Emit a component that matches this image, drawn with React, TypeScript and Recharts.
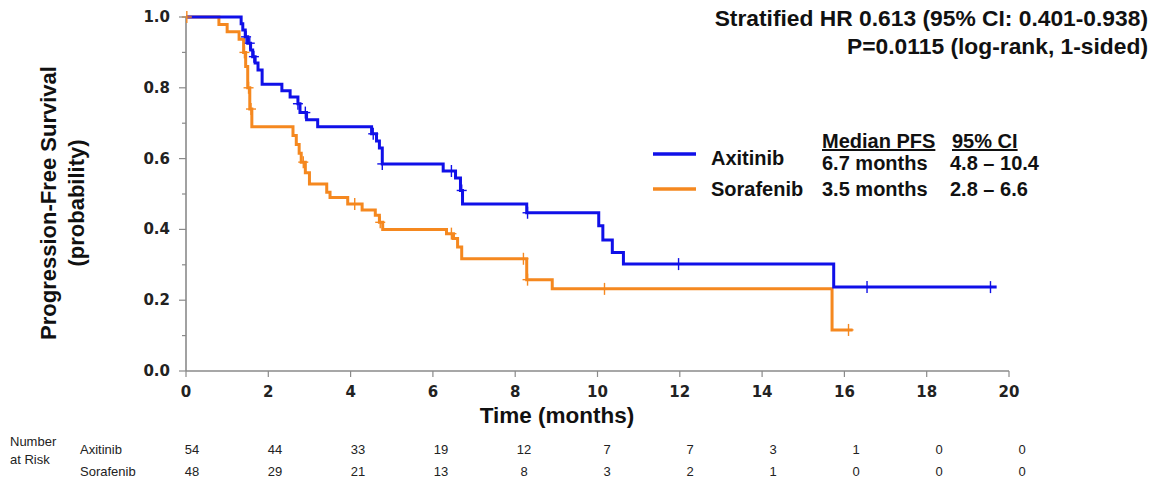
import { ComposedChart, Line, Scatter, XAxis, YAxis } from "recharts"

// Kaplan-Meier steps: time (months) where each step starts, and survival
const axitinibTime = [0, 1.34, 1.38, 1.44, 1.5, 1.57, 1.62, 1.68, 1.75, 1.85, 2.33, 2.53, 2.72, 2.77, 2.93, 3.2, 4.51, 4.63, 4.7, 4.77, 6.25, 6.55, 6.67, 6.72, 8.28, 10.03, 10.13, 10.36, 10.63, 15.74, 19.7]
const axitinibSurv = [1.0, 0.981, 0.963, 0.944, 0.926, 0.907, 0.888, 0.87, 0.85, 0.81, 0.792, 0.774, 0.755, 0.73, 0.71, 0.69, 0.67, 0.65, 0.63, 0.585, 0.565, 0.545, 0.51, 0.472, 0.447, 0.41, 0.37, 0.335, 0.302, 0.237, 0.237]
const axitinibCensor = [1.46, 1.55, 1.65, 2.72, 2.9, 4.55, 4.77, 6.45, 6.7, 8.3, 11.97, 16.55, 19.55]

const sorafenibTime = [0, 0.8, 1.0, 1.29, 1.4, 1.45, 1.5, 1.55, 1.6, 2.6, 2.68, 2.75, 2.8, 2.9, 3.0, 3.42, 3.5, 3.93, 4.28, 4.6, 4.7, 4.78, 6.33, 6.5, 6.6, 6.7, 8.28, 8.9, 15.7, 16.2]
const sorafenibSurv = [1.0, 0.979, 0.958, 0.937, 0.9, 0.86, 0.8, 0.74, 0.69, 0.665, 0.64, 0.615, 0.59, 0.56, 0.528, 0.505, 0.49, 0.472, 0.455, 0.44, 0.42, 0.4, 0.388, 0.374, 0.35, 0.317, 0.258, 0.232, 0.116, 0.116]
const sorafenibCensor = [0.02, 1.42, 1.52, 1.58, 2.85, 4.1, 4.72, 6.45, 8.2, 8.3, 10.17, 16.1]

const xTicks = [0, 2, 4, 6, 8, 10, 12, 14, 16, 18, 20]
const yTicks = [0, 0.1, 0.2, 0.3, 0.4, 0.5, 0.6, 0.7, 0.8, 0.9, 1.0]

const riskAxitinib = [54, 44, 33, 19, 12, 7, 7, 3, 1, 0, 0]
const riskSorafenib = [48, 29, 21, 13, 8, 3, 2, 1, 0, 0, 0]

const BLUE = "#1010e8"
const ORANGE = "#f5881f"
const AXIS = "#8a8a8a"
const BOLD = "'Liberation Sans', Arial, sans-serif"
const TICKFONT = "'DejaVu Sans', sans-serif"

const steps = (times: number[], surv: number[]) => times.map((t, i) => ({ t, s: surv[i] }))

const censors = (marks: number[], times: number[], surv: number[]) =>
  marks.map((c) => {
    let s = surv[0]
    times.forEach((t, i) => {
      if (t <= c) s = surv[i]
    })
    return { t: c, s }
  })

const plus = (color: string) => (props: any) => {
  const { cx, cy } = props
  return (
    <g stroke={color} strokeWidth={1.4}>
      <line x1={cx} x2={cx} y1={cy - 6} y2={cy + 6} />
      <line x1={cx - 5} x2={cx + 5} y1={cy} y2={cy} />
    </g>
  )
}

function YTick({ x, y, payload }: any) {
  const major = Math.round(payload.value * 10) % 2 === 0
  return (
    <g>
      <line x1={x - (major ? 7 : 4)} x2={x} y1={y} y2={y} stroke={AXIS} strokeWidth={1.2} />
      {major && (
        <text x={x - 16} y={y + 5} textAnchor="end" fontFamily={TICKFONT} fontWeight="bold" fontSize={15} fill="#222">
          {payload.value.toFixed(1)}
        </text>
      )}
    </g>
  )
}

function XTick({ x, y, payload }: any) {
  return (
    <g>
      <line x1={x} x2={x} y1={y} y2={y + 6} stroke={AXIS} strokeWidth={1.2} />
      <text x={x} y={y + 26} textAnchor="middle" fontFamily={TICKFONT} fontWeight="bold" fontSize={15} fill="#222">
        {payload.value}
      </text>
    </g>
  )
}

export default function App() {
  const axData = steps(axitinibTime, axitinibSurv)
  const soData = steps(sorafenibTime, sorafenibSurv)
  const axCens = censors(axitinibCensor, axitinibTime, axitinibSurv)
  const soCens = censors(sorafenibCensor, sorafenibTime, sorafenibSurv)

  return (
    <div style={{ position: "absolute", left: 0, top: 0, width: 1161, height: 483, background: "#fff" }}>
      <ComposedChart width={1161} height={401} margin={{ top: 17, right: 152, bottom: 0, left: 126 }}>
        <XAxis
          dataKey="t"
          type="number"
          domain={[0, 20]}
          ticks={xTicks}
          height={30}
          stroke={AXIS}
          strokeWidth={1.6}
          tickLine={false}
          tickSize={0}
          tickMargin={0}
          tick={<XTick />}
          interval={0}
        />
        <YAxis
          type="number"
          domain={[0, 1]}
          ticks={yTicks}
          width={60}
          stroke={AXIS}
          strokeWidth={1.6}
          tickLine={false}
          tickSize={0}
          tickMargin={0}
          tick={<YTick />}
          interval={0}
        />
        <Line data={soData} dataKey="s" type="stepAfter" stroke={ORANGE} strokeWidth={3} dot={false} isAnimationActive={false} />
        <Line data={axData} dataKey="s" type="stepAfter" stroke={BLUE} strokeWidth={3} dot={false} isAnimationActive={false} />
        <Scatter data={soCens} dataKey="s" shape={plus(ORANGE)} isAnimationActive={false} />
        <Scatter data={axCens} dataKey="s" shape={plus(BLUE)} isAnimationActive={false} />
      </ComposedChart>

      <svg width={1161} height={483} style={{ position: "absolute", left: 0, top: 0, pointerEvents: "none" }}>
        <g fontFamily={BOLD} fontWeight="bold" fill="#111">
          <text x={1148} y={26} textAnchor="end" fontSize={22.8}>Stratified HR 0.613 (95% CI: 0.401-0.938)</text>
          <text x={1148} y={54} textAnchor="end" fontSize={22.8}>P=0.0115 (log-rank, 1-sided)</text>

          <text transform="translate(56,203) rotate(-90)" textAnchor="middle" fontSize={22}>Progression-Free Survival</text>
          <text transform="translate(84,203) rotate(-90)" textAnchor="middle" fontSize={22}>(probability)</text>

          <text x={557} y={423} textAnchor="middle" fontSize={22.5}>Time (months)</text>

          <line x1={653} x2={696} y1={154} y2={154} stroke={BLUE} strokeWidth={3.5} />
          <line x1={653} x2={696} y1={189} y2={189} stroke={ORANGE} strokeWidth={3.5} />
          <text x={711} y={165} fontSize={20}>Axitinib</text>
          <text x={711} y={196} fontSize={20}>Sorafenib</text>
          <text x={822} y={148} fontSize={20} style={{ textDecoration: "underline" }}>Median PFS</text>
          <text x={952} y={148} fontSize={20} style={{ textDecoration: "underline" }}>95% CI</text>
          <text x={822} y={170} fontSize={20}>6.7 months</text>
          <text x={950} y={170} fontSize={20}>4.8 – 10.4</text>
          <text x={822} y={196} fontSize={20}>3.5 months</text>
          <text x={950} y={196} fontSize={20}>2.8 – 6.6</text>
        </g>

        <g fontFamily="'Liberation Sans Narrow', 'Liberation Sans', Arial, sans-serif" fontSize={13} fill="#222">
          <text x={10} y={446}>Number</text>
          <text x={10} y={464}>at Risk</text>
          <text x={80} y={454}>Axitinib</text>
          <text x={80} y={476}>Sorafenib</text>
          {riskAxitinib.map((n, i) => (
            <text key={"a" + i} x={192 + 83 * i} y={454} textAnchor="middle">{n}</text>
          ))}
          {riskSorafenib.map((n, i) => (
            <text key={"s" + i} x={192 + 83 * i} y={476} textAnchor="middle">{n}</text>
          ))}
        </g>
      </svg>
    </div>
  )
}
